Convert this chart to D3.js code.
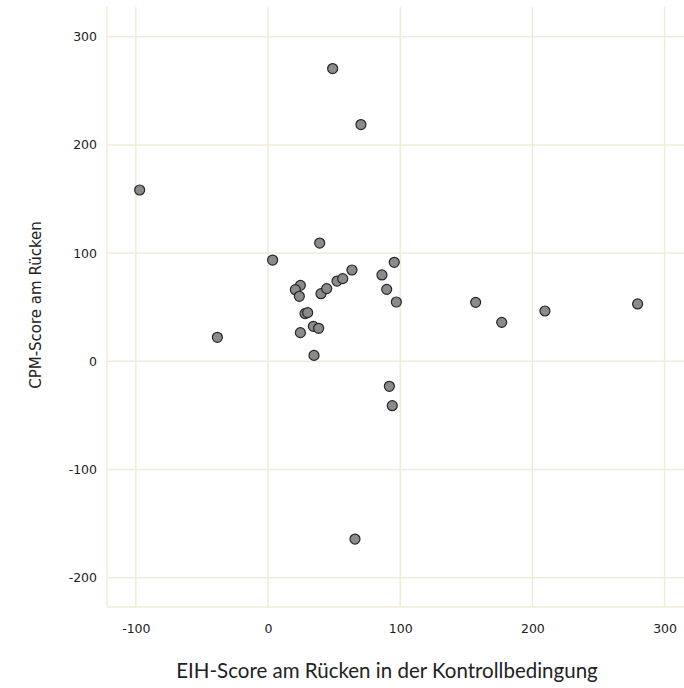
<!DOCTYPE html>
<meta charset="utf-8">
<style>
	body { margin: 0; background: #fff; }
</style>
<body>
<script src="https://d3js.org/d3.v7.min.js"></script>
<script>
	// EIH score (x) and CPM score (y)
	var eihScore = [-97.1, -38.3, 3.5, 48.9, 70.3, 39.1, 24.5, 20.7, 23.7, 40.1, 44.4, 52.2, 56.5, 63.5,
		86.2, 95.5, 89.8, 97.1, 28, 30, 24.5, 34.3, 38.3, 34.8, 91.8, 94, 157.1, 176.8, 209.5, 279.6, 65.8];
	var cpmScore = [158.3, 22.2, 93.6, 270.5, 218.8, 109.3, 70.2, 66.2, 60.1, 62.5, 67.2, 74.2, 76.4, 84.4,
		79.8, 91.5, 66.5, 54.8, 44.1, 45, 26.5, 32.3, 30.5, 5.5, -23.1, -41, 54.5, 36, 46.5, 53, -164.2];
	var xTicks = [-100, 0, 100, 200, 300];
	var yTicks = [-200, -100, 0, 100, 200, 300];

	var width = 684, height = 688;
	var plot = {left: 107, right: 684, top: 7, bottom: 607};
	var gridColor = "#f0ebd9";

	var svg = d3.select("body").append("svg")
		.attr("width", width)
		.attr("height", height);

	var x = d3.scaleLinear().domain([-121.8, 314.7]).range([plot.left, plot.right]);
	var y = d3.scaleLinear().domain([-227, 327.4]).range([plot.bottom, plot.top]);

	// plain hyphen for negatives, like the original
	var fmt = function(d) { return String(d); };

	// grid
	svg.selectAll("line.gx")
		.data(xTicks)
		.enter()
		.append("line")
		.attr("class", "gx")
		.attr("x1", function(d) { return x(d); })
		.attr("x2", function(d) { return x(d); })
		.attr("y1", plot.top)
		.attr("y2", plot.bottom)
		.attr("stroke", gridColor)
		.attr("stroke-width", 1.5);
	svg.selectAll("line.gy")
		.data(yTicks)
		.enter()
		.append("line")
		.attr("class", "gy")
		.attr("x1", plot.left)
		.attr("x2", plot.right)
		.attr("y1", function(d) { return y(d); })
		.attr("y2", function(d) { return y(d); })
		.attr("stroke", gridColor)
		.attr("stroke-width", 1.5);

	// axis lines
	svg.append("line")
		.attr("x1", plot.left).attr("x2", plot.left)
		.attr("y1", plot.top).attr("y2", plot.bottom)
		.attr("stroke", gridColor).attr("stroke-width", 1.5);
	svg.append("line")
		.attr("x1", plot.left).attr("x2", plot.right)
		.attr("y1", plot.bottom).attr("y2", plot.bottom)
		.attr("stroke", gridColor).attr("stroke-width", 1.5);

	// tick labels
	var xAxis = svg.append("g")
		.attr("transform", "translate(0," + plot.bottom + ")")
		.call(d3.axisBottom(x).tickValues(xTicks).tickSize(0).tickPadding(17).tickFormat(fmt));
	var yAxis = svg.append("g")
		.attr("transform", "translate(" + plot.left + ",0)")
		.call(d3.axisLeft(y).tickValues(yTicks).tickSize(0).tickPadding(10).tickFormat(fmt));
	[xAxis, yAxis].forEach(function(a) {
		a.select(".domain").remove();
		a.selectAll("text")
			.attr("font-family", "DejaVu Sans")
			.attr("font-size", "12.5px")
			.attr("fill", "#222");
	});

	// axis titles
	svg.append("text")
		.text("EIH-Score am Rücken in der Kontrollbedingung")
		.attr("x", 387)
		.attr("y", 678)
		.attr("text-anchor", "middle")
		.attr("font-family", "Lato")
		.attr("font-size", "20.5px")
		.attr("fill", "#222");
	svg.append("text")
		.text("CPM-Score am Rücken")
		.attr("transform", "translate(41,305) rotate(-90)")
		.attr("text-anchor", "middle")
		.attr("font-family", "DejaVu Sans")
		.attr("font-size", "15px")
		.attr("fill", "#222");

	// points
	svg.selectAll("circle.pt")
		.data(eihScore)
		.enter()
		.append("circle")
		.attr("class", "pt")
		.attr("cx", function(d) { return x(d); })
		.attr("cy", function(d, i) { return y(cpmScore[i]); })
		.attr("r", 5)
		.attr("fill", "#8c8a8c")
		.attr("stroke", "#262626")
		.attr("stroke-width", 1.2);
</script>
</body>
